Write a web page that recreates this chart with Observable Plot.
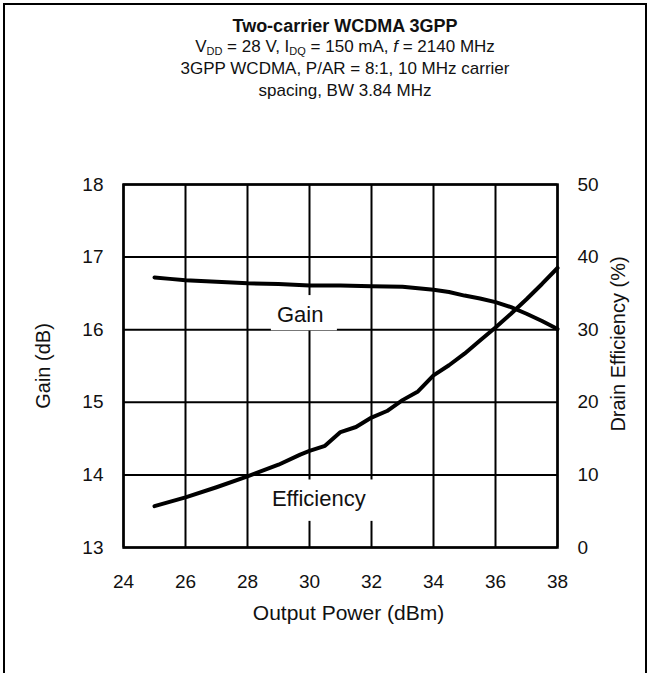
<!DOCTYPE html>
<html>
<head>
<meta charset="utf-8">
<script src="https://cdn.jsdelivr.net/npm/d3@7"></script>
<script src="https://cdn.jsdelivr.net/npm/@observablehq/plot@0.6"></script>
<style>
  html, body { margin: 0; padding: 0; background: #fff; }
  #wrap { position: relative; width: 652px; height: 673px; overflow: hidden; font-family: "Liberation Sans", Arial, sans-serif; color: #111; }
  #border { position: absolute; left: 3px; top: 3px; width: 644px; height: 700px; border: 2px solid #000; box-sizing: border-box; }
  #titles { position: absolute; left: 0; top: 16px; width: 690px; text-align: center; }
  #titles .t { font-weight: bold; font-size: 18px; line-height: 20px; }
  #titles .s { font-size: 17px; line-height: 22px; }
  #titles sub { font-size: 11px; vertical-align: -3px; line-height: 0; }
  #chart { position: absolute; left: 0; top: 0; }
</style>
</head>
<body>
<div id="wrap">
  <div id="border"></div>
  <div id="chart"></div>
  <div id="titles">
    <div class="t">Two-carrier WCDMA 3GPP</div>
    <div class="s">V<sub>DD</sub> = 28 V, I<sub>DQ</sub> = 150 mA, <i>f</i> = 2140 MHz</div>
    <div class="s">3GPP WCDMA, P/AR = 8:1, 10 MHz carrier</div>
    <div class="s">spacing, BW 3.84 MHz</div>
  </div>
</div>
<script>
// ---- data ----
const gainPower = [25, 25.5, 26, 27, 28, 29, 30, 31, 32, 33, 33.5, 34, 34.5, 35, 35.5, 36, 36.5, 37, 37.5, 38];
const gainDb    = [16.72, 16.70, 16.68, 16.66, 16.64, 16.63, 16.61, 16.61, 16.60, 16.59, 16.57, 16.55, 16.52, 16.47, 16.43, 16.38, 16.31, 16.22, 16.12, 16.01];

const effPower = [25, 26, 27, 28, 29, 29.7, 30, 30.5, 31, 31.5, 32, 32.5, 33, 33.5, 34, 34.5, 35, 35.5, 36, 36.5, 37, 37.5, 38];
const effPct   = [5.7, 6.9, 8.3, 9.8, 11.4, 12.8, 13.3, 14.0, 15.9, 16.6, 17.9, 18.8, 20.3, 21.5, 23.7, 25.1, 26.7, 28.5, 30.3, 32.2, 34.2, 36.3, 38.5];

const xTicks = [24, 26, 28, 30, 32, 34, 36, 38];
const gainTicks = [13, 14, 15, 16, 17, 18];
const effTicks = [0, 10, 20, 30, 40, 50];

const curveLabels = ["Gain", "Efficiency"];
const labelX = [29.7, 30.3];
const labelY = [16.2, 13.675];
// white boxes behind curve labels [x1, x2, y1, y2] in data units
const boxX1 = [28.77, 28.5];
const boxX2 = [30.9, 32.15];
const boxY1 = [15.985, 13.36];
const boxY2 = [16.47, 13.93];

// ---- build ----
const effToGain = e => 13 + e / 10;
const gain = gainPower.map((p, i) => ({p, v: gainDb[i]}));
const eff = effPower.map((p, i) => ({p, v: effToGain(effPct[i])}));
const labels = curveLabels.map((t, i) => ({t, x: labelX[i], y: labelY[i]}));
const boxes = curveLabels.map((t, i) => ({x1: boxX1[i], x2: boxX2[i], y1: boxY1[i], y2: boxY2[i]}));

const chart = Plot.plot({
  width: 652,
  height: 673,
  marginTop: 184,
  marginLeft: 123,
  marginRight: 95,
  marginBottom: 126,
  style: {fontFamily: "'Liberation Sans', Arial, sans-serif", fontSize: "19px", color: "#111", background: "transparent"},
  x: {domain: [24, 38]},
  y: {domain: [13, 18]},
  marks: [
    Plot.gridX(xTicks, {stroke: "#000", strokeOpacity: 1, strokeWidth: 2}),
    Plot.gridY(gainTicks, {stroke: "#000", strokeOpacity: 1, strokeWidth: 2}),
    Plot.rect(boxes, {x1: "x1", x2: "x2", y1: "y1", y2: "y2", fill: "#fff"}),
    Plot.axisX(xTicks, {tickSize: 0, tickPadding: 27, fontSize: 19, label: null, tickFormat: d => String(d)}),
    Plot.axisY(gainTicks, {anchor: "left", tickSize: 0, tickPadding: 20, fontSize: 19, label: null, tickFormat: d => String(d)}),
    Plot.axisY(gainTicks, {anchor: "right", tickSize: 0, tickPadding: 20, fontSize: 19, label: null, tickFormat: (d, i) => String(effTicks[i])}),
    Plot.frame({stroke: "#000", strokeWidth: 2.5}),
    Plot.line(gain, {x: "p", y: "v", stroke: "#000", strokeWidth: 4}),
    Plot.line(eff, {x: "p", y: "v", stroke: "#000", strokeWidth: 4}),
    Plot.text(labels, {x: "x", y: "y", text: "t", fontSize: 22, fill: "#111"}),
    Plot.text(["Output Power (dBm)"], {frameAnchor: "bottom", dx: 8, dy: 72, fontSize: 21, fill: "#111"}),
    Plot.text(["Gain (dB)"], {frameAnchor: "left", textAnchor: "middle", dx: -80, rotate: -90, fontSize: 20, fill: "#111"}),
    Plot.text(["Drain Efficiency (%)"], {frameAnchor: "right", textAnchor: "middle", dx: 61, dy: -22, rotate: -90, fontSize: 20, fill: "#111"})
  ]
});
document.getElementById("chart").appendChild(chart);
</script>
</body>
</html>
